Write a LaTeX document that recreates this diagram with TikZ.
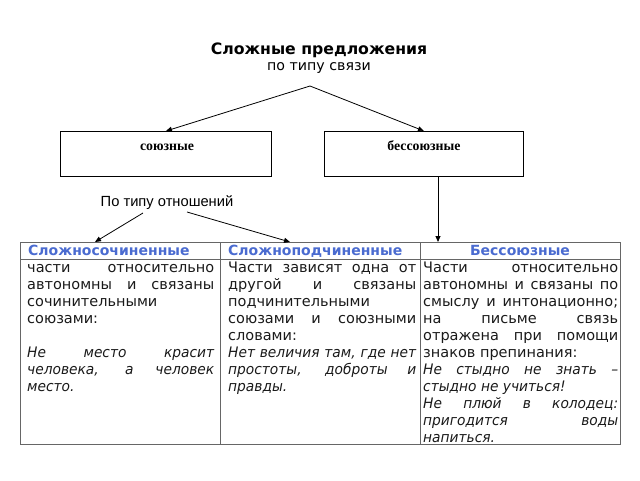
\documentclass[tikz,border=0pt]{standalone}
\usepackage{fontspec}
\setmainfont{Liberation Serif}
\newfontfamily\dv[ItalicFeatures={FakeStretch=0.95}]{DejaVu Sans}
\newfontfamily\lsans{Liberation Sans}
\usetikzlibrary{arrows.meta,calc}
\definecolor{hblue}{HTML}{4A6BD0}
\definecolor{tgray}{HTML}{666666}
\definecolor{ink}{HTML}{1A1A1A}
\setlength{\parindent}{0pt}
\newcommand\bodyset{\tolerance=10000\relax\hyphenpenalty=10000\relax\exhyphenpenalty=10000\relax}
\tikzset{
  arr/.style={draw=black, line width=0.8pt, -{Triangle[length=6pt,width=5pt]}},
  topbox/.style={draw=black, line width=0.9pt, minimum width=#1, minimum height=45pt, anchor=north west, inner sep=0pt},
  boxtxt/.style={font=\rmfamily\bfseries\fontsize{13.8}{15}\selectfont, anchor=base, inner sep=0pt},
  tab/.style={draw=tgray, line width=1.4pt, minimum width=200pt, anchor=north west, inner sep=0pt},
  hdr/.style={font=\dv\bfseries\fontsize{14}{16}\selectfont, text=hblue, inner sep=0pt},
  body/.style={anchor=north west, inner sep=0pt, text width=#1, align=justify, text=ink,
     font=\dv\fontsize{14.5}{17}\selectfont\bodyset}
}
\begin{document}
\begin{tikzpicture}[x=1pt,y=-1pt]
\useasboundingbox (0,0) rectangle (640,480);
% title
\node[font=\dv\bfseries\fontsize{15.7}{18}\selectfont, anchor=base, inner sep=0pt] (title) at (319,54) {Сложные предложения};
\node[font=\dv\fontsize{14.2}{16}\selectfont, anchor=base, inner sep=0pt] (sub) at (319,70) {по типу связи};
\coordinate (apex) at (310,86);
% top boxes
\node[topbox=211pt] (sz) at (60,131) {};
\node[boxtxt] (sztxt) at (167,150.5) {союзные};
\node[topbox=199pt] (bsz) at (324,131) {};
\node[boxtxt] (bsztxt) at (424,150.5) {бессоюзные};
\draw[arr] (apex) -- (sz.north);
\draw[arr] (apex) -- (bsz.north);
% relation label
\node[font=\lsans\fontsize{14.7}{17}\selectfont, anchor=base, inner sep=0pt] (rel) at (167,206) {По типу отношений};
% table
\node[tab, minimum height=17pt] (h1) at (20,242) {};
\node[tab, minimum height=17pt] (h2) at (220,242) {};
\node[tab, minimum height=17pt] (h3) at (420,242) {};
\node[tab, minimum height=185pt] (c1) at (20,259) {};
\node[tab, minimum height=185pt] (c2) at (220,259) {};
\node[tab, minimum height=185pt] (c3) at (420,259) {};
\node[hdr, anchor=base west] (h1t) at (28,255.5) {Сложносочиненные};
\node[hdr, anchor=base west] (h2t) at (228,255.5) {Сложноподчиненные};
\node[hdr, anchor=base] (h3t) at (520,255.5) {Бессоюзные};
% arrows to table
\coordinate (r1) at (143,213);
\coordinate (r2) at (187,212);
\coordinate (t1) at (95,0);
\coordinate (t2) at (290,0);
\coordinate (vx) at (438,0);
\draw[arr] (r1) -- (h1.north -| t1);
\draw[arr] (r2) -- (h2.north -| t2);
\draw[arr] (bsz.south -| vx) -- (h3.north -| vx);
% body texts
\node[body=187pt] (b1) at (27,260) {\strut части относительно\linebreak автономны и связаны\linebreak сочинительными\newline союзами:\par\mbox{}\par\textit{Не место красит\linebreak человека, а человек\linebreak место.}};
\node[body=188pt] (b2) at (228,260) {\strut Части зависят одна от\linebreak другой и связаны\linebreak подчинительными\newline союзами и союзными\linebreak словами:\par\textit{Нет величия там, где нет\linebreak простоты, доброты и\linebreak правды.}};
\node[body=195pt] (b3) at (423,260) {\strut Части относительно\linebreak автономны и связаны по\linebreak смыслу и интонационно;\linebreak на письме связь\linebreak отражена при помощи\linebreak знаков препинания:\par\textit{Не стыдно не знать –\linebreak стыдно не учиться!}\par\textit{Не плюй в колодец:\linebreak пригодится воды\linebreak напиться.}};
\end{tikzpicture}
\end{document}
